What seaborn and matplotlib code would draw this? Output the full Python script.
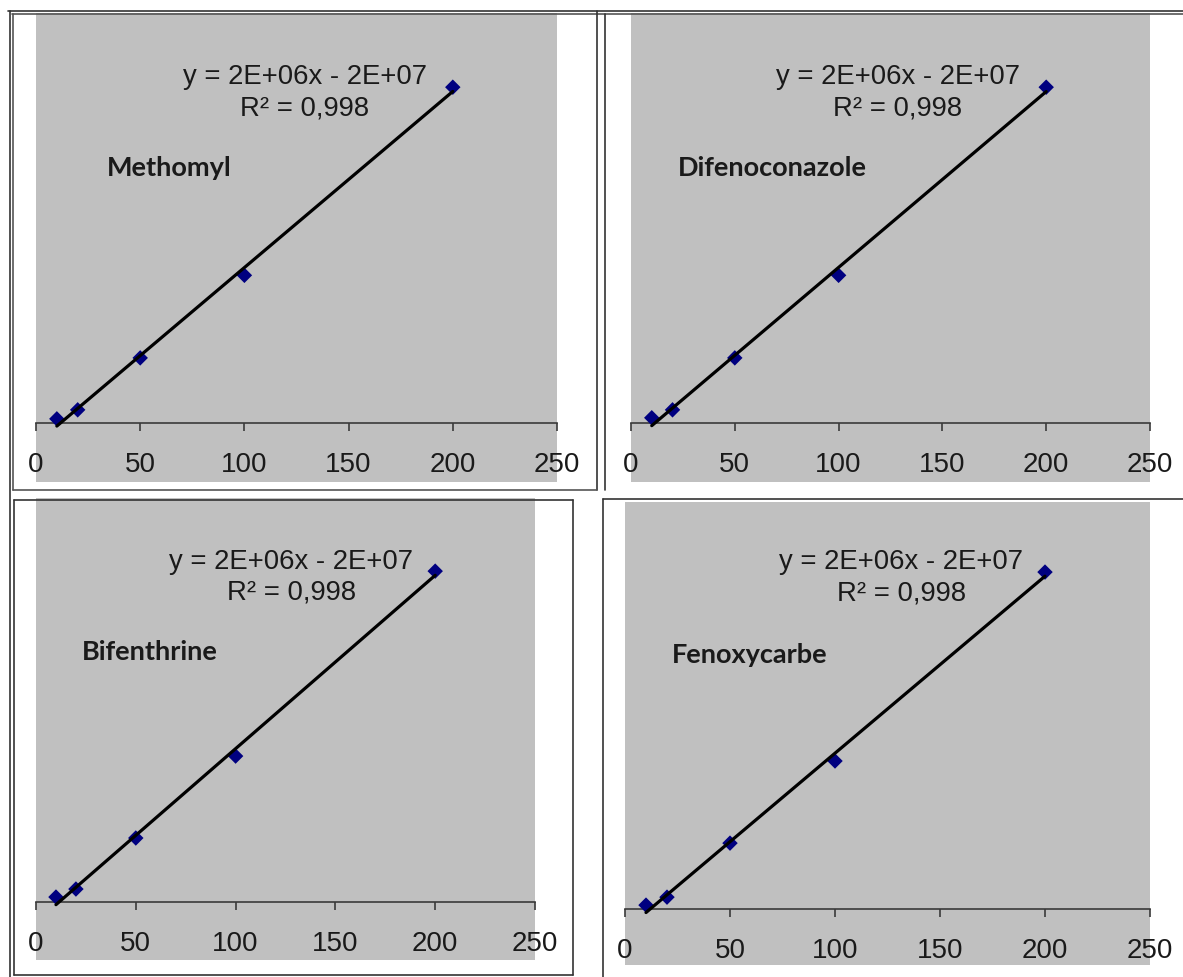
import numpy as np
import pandas as pd
import matplotlib
matplotlib.use("Agg")
import matplotlib.pyplot as plt
from matplotlib.lines import Line2D
import seaborn as sns

# ---------------- data ----------------
conc = [10, 20, 50, 100, 200]
methomyl = [4.5e6, 1.47e7, 7.35e7, 1.67e8, 3.80e8]
difenoconazole = [5.7e6, 1.47e7, 7.35e7, 1.67e8, 3.80e8]
bifenthrine = [5.7e6, 1.49e7, 7.35e7, 1.676e8, 3.80e8]
fenoxycarbe = [4.5e6, 1.35e7, 7.44e7, 1.67e8, 3.80e8]
names = ["Methomyl", "Difenoconazole", "Bifenthrine", "Fenoxycarbe"]
equation_text = "y = 2E+06x - 2E+07"
r2_text = "R² = 0,998"
xtick_values = [0, 50, 100, 150, 200, 250]

series = [methomyl, difenoconazole, bifenthrine, fenoxycarbe]

# ---------------- layout (pixels) ----------------
W, H = 1183, 977
DPI = 100
sns.set_theme(style="white")
plt.rcParams["font.family"] = ["Liberation Sans", "DejaVu Sans"]

fig = plt.figure(figsize=(W / DPI, H / DPI), dpi=DPI)
fig.patch.set_facecolor("white")

# gray plot rectangles (left, top, right, bottom) in pixels
rects = [(36, 13, 557, 482), (631, 13, 1150, 482),
         (36, 498, 535, 960), (625, 502, 1150, 965)]
ylims = [(-67e6, 464e6), (-67e6, 464e6), (-66.6e6, 464e6), (-63e6, 459e6)]
eq_pos = [(129, 391e6, 356e6), (128.6, 391e6, 356e6),
          (127.8, 390e6, 355e6), (131.6, 391e6, 356e6)]
name_pos = [(34, 288e6), (22.6, 288e6), (23, 287e6), (22.3, 287e6)]


def fx(px):
    return px / W


def fy(py):
    return 1 - py / H


for i, (vals, name) in enumerate(zip(series, names)):
    l, t, r, b = rects[i]
    ax = fig.add_axes([fx(l), fy(b), (r - l) / W, (b - t) / H])
    ax.set_facecolor("#C0C0C0")
    df = pd.DataFrame({"conc": conc, "area": vals})
    sns.regplot(data=df, x="conc", y="area", ax=ax, ci=None, truncate=True,
                marker="D",
                scatter_kws={"s": 62, "color": "#000080", "edgecolor": "none",
                             "alpha": 1, "zorder": 3},
                line_kws={"color": "black", "lw": 2.3, "zorder": 4})
    ax.set_xlim(0, 250)
    ax.set_ylim(*ylims[i])
    ax.set_xticks(xtick_values)
    ax.set_xticklabels([str(v) for v in xtick_values])
    ax.set_yticks([])
    ax.set_xlabel("")
    ax.set_ylabel("")
    for s in ["top", "right", "left"]:
        ax.spines[s].set_visible(False)
    ax.spines["bottom"].set_position(("data", 0))
    ax.spines["bottom"].set_color("#3a3a3a")
    ax.spines["bottom"].set_linewidth(1.2)
    ax.tick_params(axis="x", direction="out", length=5.8, width=1.2,
                   color="#3a3a3a", labelsize=20, labelcolor="#1a1a1a",
                   pad=15, bottom=True)
    ex, ey1, ey2 = eq_pos[i]
    ax.text(ex, ey1, equation_text, ha="center", va="center", fontsize=19.8,
            color="#1a1a1a")
    ax.text(ex, ey2, r2_text, ha="center", va="center", fontsize=19.8,
            color="#1a1a1a")
    nx, ny = name_pos[i]
    ax.text(nx, ny, name, ha="left", va="center", fontsize=19.5,
            fontweight="bold", family=["Lato", "DejaVu Sans"], color="#1a1a1a")

# ---------------- frame lines (screenshot borders) ----------------
def hline(y, x0, x1, lw=1.2, c="#333333"):
    fig.add_artist(Line2D([fx(x0), fx(x1)], [fy(y), fy(y)], lw=lw, color=c))


def vline(x, y0, y1, lw=1.2, c="#333333"):
    fig.add_artist(Line2D([fx(x), fx(x)], [fy(y0), fy(y1)], lw=lw, color=c))

hline(11, 8, W)
hline(14, 12, W, c="#555555")
vline(10, 11, H)
vline(13, 14, 490, c="#555555")
vline(597, 11, 490)
vline(605, 14, 490)
hline(490, 13, 597, c="#555555")
# bottom-left box
hline(500, 14, 573)
vline(14, 500, 975)
vline(573, 500, 975)
hline(975, 14, 573)
# bottom-right box
hline(499, 603, W)
vline(603, 499, H)

fig.savefig("out.png", dpi=DPI, facecolor="white")
